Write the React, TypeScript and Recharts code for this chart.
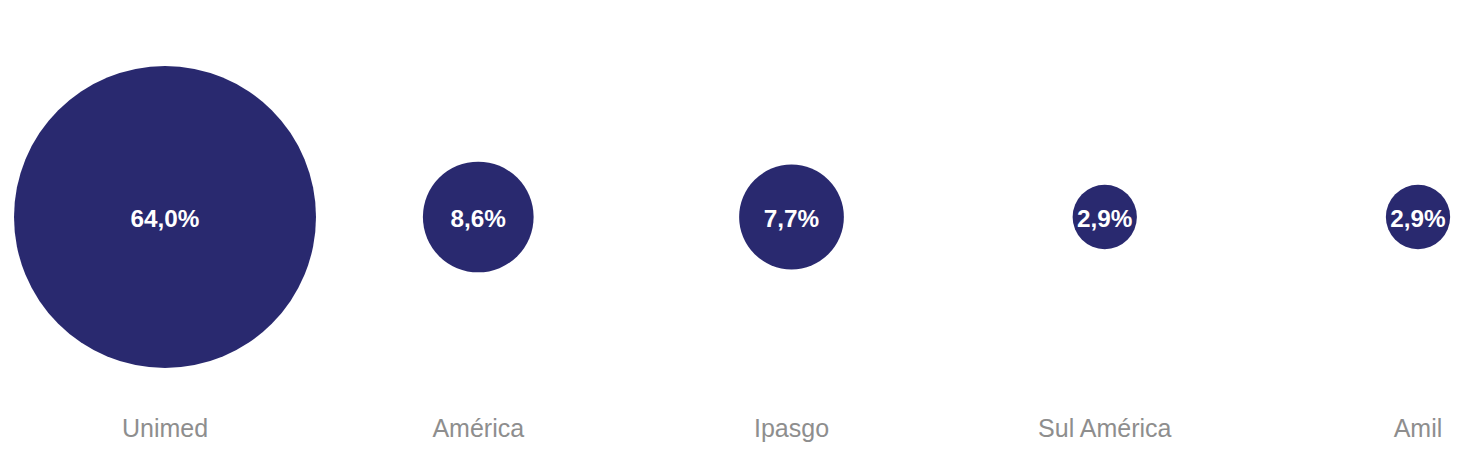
import React from 'react';
import { ScatterChart, Scatter, XAxis, YAxis, ZAxis } from 'recharts';

const categories = ['Unimed', 'América', 'Ipasgo', 'Sul América', 'Amil'];
const shares = [64.0, 8.6, 7.7, 2.9, 2.9];
const shareLabels = ['64,0%', '8,6%', '7,7%', '2,9%', '2,9%'];

const data = categories.map((name, i) => ({
  idx: i,
  y: 1,
  z: shares[i],
  label: shareLabels[i],
}));

const MAX_R = 151;
const COLOR = '#29296F';

const Bubble = (props: any) => {
  const { cx, cy, payload } = props;
  let r = 0;
  if (typeof props.size === 'number') r = Math.sqrt(props.size / Math.PI);
  else if (typeof props.width === 'number') r = props.width / 2;
  return (
    <g>
      <circle cx={cx} cy={cy} r={r} fill={COLOR} />
      <text
        x={cx}
        y={cy}
        dy="0.42em"
        textAnchor="middle"
        fill="#ffffff"
        fontSize={24.3}
        fontWeight="bold"
        fontFamily="'Liberation Sans', Arial, sans-serif"
      >
        {payload.label}
      </text>
    </g>
  );
};

export default function App() {
  return (
    <div style={{ width: 1456, height: 443 }}>
      <ScatterChart
        width={1456}
        height={443}
        margin={{ top: 20, right: 46, bottom: 5, left: 157 }}
      >
        <XAxis
          type="number"
          dataKey="idx"
          domain={[0, 4]}
          ticks={[0, 1, 2, 3, 4]}
          tickFormatter={(v: number) => categories[v]}
          axisLine={false}
          tickLine={false}
          tickSize={0}
          tickMargin={13}
          height={40}
          interval={0}
          tick={{ fill: '#8E8E8E', fontSize: 25, fontFamily: "'Liberation Sans', Arial, sans-serif" }}
        />
        <YAxis type="number" dataKey="y" domain={[0, 2]} hide width={0} />
        <ZAxis type="number" dataKey="z" domain={[0, 64]} range={[0, Math.PI * MAX_R * MAX_R]} />
        <Scatter data={data} shape={<Bubble />} isAnimationActive={false} />
      </ScatterChart>
    </div>
  );
}
